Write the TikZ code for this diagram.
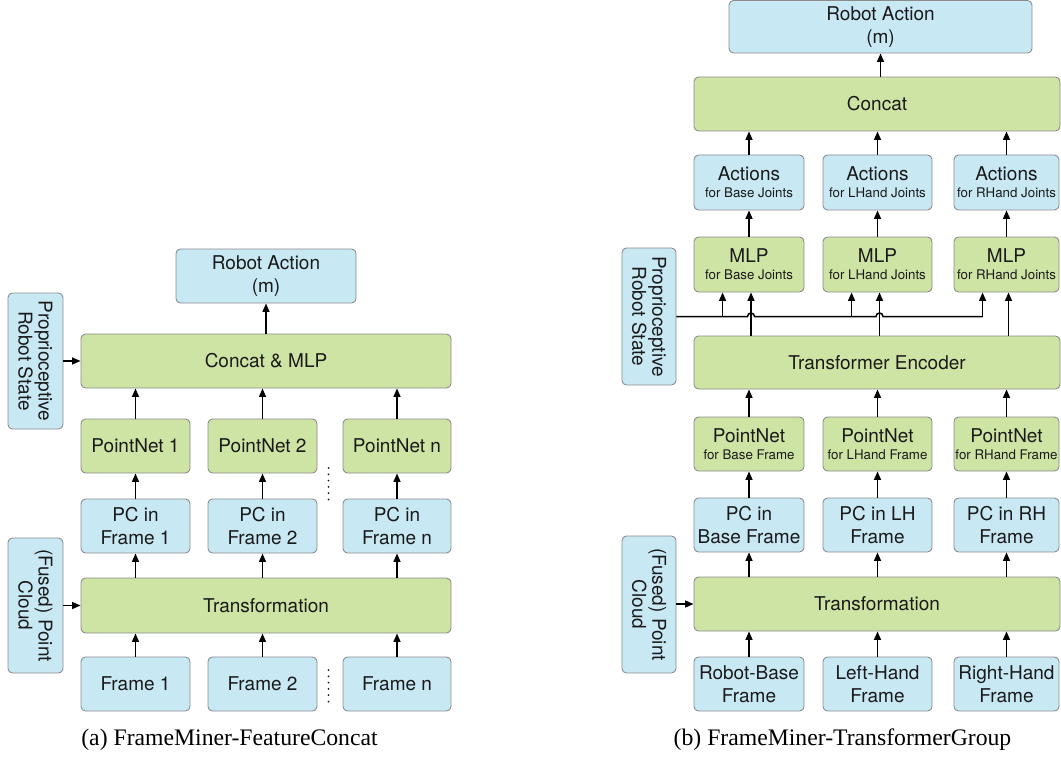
\documentclass[tikz,border=0pt]{standalone}
\usepackage{fontspec}
\setmainfont{Liberation Serif}
\newfontfamily\sansf{TeX Gyre Heros}
\usetikzlibrary{arrows.meta}
\definecolor{bfill}{HTML}{C8E8F4}
\definecolor{gfill}{HTML}{CEE4A4}
\definecolor{bdr}{HTML}{8C8C8C}
\definecolor{txt}{HTML}{1A1A1A}
\newcommand\smtxt[1]{{\fontsize{13.3}{16}\selectfont #1}}
\tikzset{
  box/.style={draw=bdr, line width=0.9pt, rounded corners=4.5pt, inner sep=0pt, align=center,
    font=\sansf\fontsize{19}{23}\selectfont, text=txt},
  bbox/.style={box, fill=bfill},
  gbox/.style={box, fill=gfill},
  sz/.style 2 args={minimum width=#1pt, minimum height=#2pt},
  vtext/.style={rotate=-90, align=center, font=\sansf\fontsize{19}{20}\selectfont, text=txt},
  arr/.style={line width=1.5pt, -{Triangle[length=8.5pt,width=7pt]}},
  bus/.style={line width=1.5pt},
  captext/.style={font=\fontsize{23.7}{28}\selectfont, anchor=base}
}
\begin{document}
\begin{tikzpicture}[x=1pt,y=-1pt]
\useasboundingbox (0,0) rectangle (1061,757);
% ---------------- (a) ----------------
\node[bbox, sz={180}{54}] (raA) at (266,276) {Robot Action\\(m)};
\node[bbox, sz={55}{136}] (propA) at (35.5,361) {};
\node[vtext] at (propA) {Proprioceptive\\Robot State};
\node[gbox, sz={370}{54}] (cmA) at (266,361) {Concat \& MLP};
\node[gbox, sz={109}{54}] (pn1A) at (135.5,446) {PointNet 1};
\node[gbox, sz={109}{54}] (pn2A) at (262.5,446) {PointNet 2};
\node[gbox, sz={108}{54}] (pnnA) at (397,446) {PointNet n};
\node[bbox, sz={109}{54}] (pc1A) at (135.5,526) {PC in\\Frame 1};
\node[bbox, sz={109}{54}] (pc2A) at (262.5,526) {PC in\\Frame 2};
\node[bbox, sz={108}{54}] (pcnA) at (397,526) {PC in\\Frame n};
\node[bbox, sz={55}{135}] (fusA) at (35.5,605.5) {};
\node[vtext] at (fusA) {(Fused) Point\\Cloud};
\node[gbox, sz={370}{55}] (trA) at (266,605.5) {Transformation};
\node[bbox, sz={109}{54}] (f1A) at (135.5,684) {Frame 1};
\node[bbox, sz={109}{54}] (f2A) at (262.5,684) {Frame 2};
\node[bbox, sz={108}{54}] (fnA) at (397,684) {Frame n};
\node[captext] (capA) at (229.5,745) {(a) FrameMiner-FeatureConcat};

\draw[arr] (cmA.north -| raA.south) -- (raA.south);
\draw[arr] (propA.east |- cmA.west) -- (cmA.west);
\draw[arr] (fusA.east |- trA.west) -- (trA.west);
\foreach \n in {1,2,n}{
  \draw[arr] (pn\n A.north) -- (pn\n A.north |- cmA.south);
  \draw[arr] (pc\n A.north) -- (pc\n A.south |- pn\n A.south);
  \draw[arr] (pc\n A.south |- trA.north) -- (pc\n A.south);
  \draw[arr] (f\n A.north) -- (f\n A.north |- trA.south);
}
\foreach \i in {0,...,5}{
  \fill[txt] (328.5,468+6.3*\i) circle (1pt);
  \fill[txt] (328.5,670+6.3*\i) circle (1pt);
}
% ---------------- (b) ----------------
\node[bbox, sz={303}{52.5}] (raB) at (880.5,26.75) {Robot Action\\(m)};
\node[gbox, sz={366}{54}] (conB) at (877,104) {Concat};
\node[bbox, sz={110}{55}] (act1B) at (749,182.5) {Actions\\[-6pt]\smtxt{for Base Joints}};
\node[bbox, sz={109}{55}] (act2B) at (877.5,182.5) {Actions\\[-6pt]\smtxt{for LHand Joints}};
\node[bbox, sz={105}{55}] (act3B) at (1006.5,182.5) {Actions\\[-6pt]\smtxt{for RHand Joints}};
\node[gbox, sz={110}{55}] (mlp1B) at (749,264.5) {MLP\\[-6pt]\smtxt{for Base Joints}};
\node[gbox, sz={109}{55}] (mlp2B) at (877.5,264.5) {MLP\\[-6pt]\smtxt{for LHand Joints}};
\node[gbox, sz={105}{55}] (mlp3B) at (1006.5,264.5) {MLP\\[-6pt]\smtxt{for RHand Joints}};
\node[bbox, sz={54}{137}] (propB) at (649,316.5) {};
\node[vtext] at (propB) {Proprioceptive\\Robot State};
\node[gbox, sz={366}{53}] (teB) at (877,362.5) {Transformer Encoder};
\node[gbox, sz={110}{54}] (pn1B) at (749,444) {PointNet\\[-6pt]\smtxt{for Base Frame}};
\node[gbox, sz={109}{54}] (pn2B) at (877.5,444) {PointNet\\[-6pt]\smtxt{for LHand Frame}};
\node[gbox, sz={105}{54}] (pn3B) at (1006.5,444) {PointNet\\[-6pt]\smtxt{for RHand Frame}};
\node[bbox, sz={110}{54}] (pc1B) at (749,525) {PC in\\Base Frame};
\node[bbox, sz={109}{54}] (pc2B) at (877.5,525) {PC in LH\\Frame};
\node[bbox, sz={105}{54}] (pc3B) at (1006.5,525) {PC in RH\\Frame};
\node[bbox, sz={54}{137}] (fusB) at (649,604.5) {};
\node[vtext] at (fusB) {(Fused) Point\\Cloud};
\node[gbox, sz={366}{54}] (trB) at (877,604) {Transformation};
\node[bbox, sz={110}{54}] (fr1B) at (749,684) {Robot-Base\\Frame};
\node[bbox, sz={109}{54}] (fr2B) at (877.5,684) {Left-Hand\\Frame};
\node[bbox, sz={105}{54}] (fr3B) at (1006.5,684) {Right-Hand\\Frame};
\node[captext] (capB) at (842.5,745) {(b) FrameMiner-TransformerGroup};

\draw[arr] (conB.north -| raB.south) -- (raB.south);
\draw[arr] (fusB.east |- trB.west) -- (trB.west);
\foreach \n in {1,2,3}{
  \draw[arr] (act\n B.north) -- (act\n B.north |- conB.south);
  \draw[arr] (mlp\n B.north) -- (act\n B.south);
  \draw[arr] ([xshift=2pt]mlp\n B.south |- teB.north) -- ([xshift=2pt]mlp\n B.south);
  \draw[arr] (pn\n B.north) -- (pn\n B.north |- teB.south);
  \draw[arr] (pc\n B.north) -- (pn\n B.south);
  \draw[arr] (pc\n B.south |- trB.north) -- (pc\n B.south);
  \draw[arr] (fr\n B.north) -- (fr\n B.north |- trB.south);
  \coordinate (j\n) at ([xshift=2pt]mlp\n B.south |- propB.east);
  \coordinate (b\n) at ([xshift=29pt]mlp\n B.south west |- propB.east);
  \draw[arr] (b\n) -- (b\n |- mlp\n B.south);
}
\draw[bus] (propB.east) -- ([xshift=-3.5pt]j1) arc[start angle=180, end angle=0, radius=3.5pt]
  -- ([xshift=-3.5pt]j2) arc[start angle=180, end angle=0, radius=3.5pt] -- (b3);
\end{tikzpicture}
\end{document}
